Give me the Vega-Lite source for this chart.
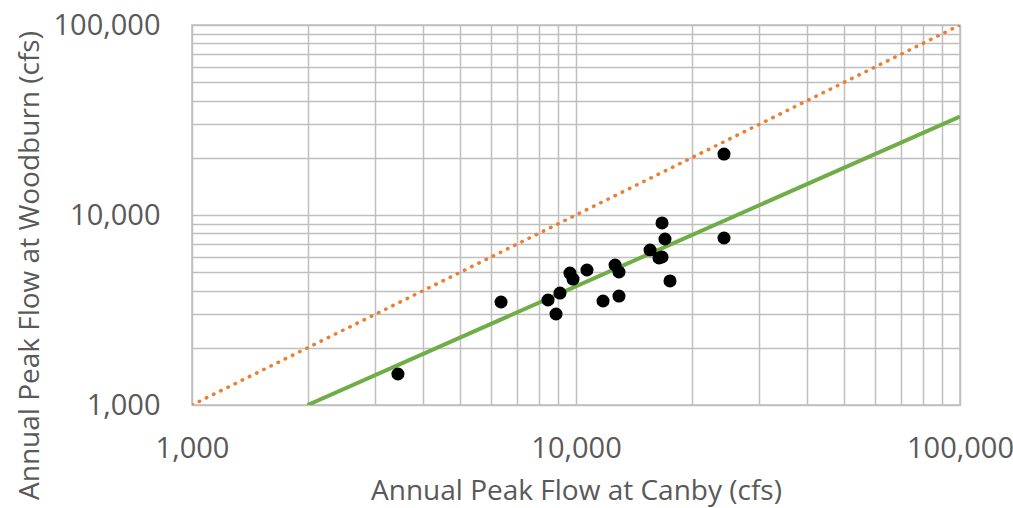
{
  "$schema": "https://vega.github.io/schema/vega-lite/v6.json",
  "autosize": "none",
  "width": 768,
  "height": 380,
  "padding": {"left": 192, "top": 25, "right": 53, "bottom": 103},
  "background": "white",
  "config": {
    "view": {"stroke": "#BFBFBF", "strokeWidth": 1.5},
    "font": "Open Sans"
  },
  "datasets": {
    "points": [
      {"canby": 3438, "woodburn": 1456},
      {"canby": 6380, "woodburn": 3484},
      {"canby": 8455, "woodburn": 3570},
      {"canby": 8872, "woodburn": 3013},
      {"canby": 9085, "woodburn": 3885},
      {"canby": 9644, "woodburn": 4950},
      {"canby": 9822, "woodburn": 4603},
      {"canby": 10680, "woodburn": 5135},
      {"canby": 11760, "woodburn": 3527},
      {"canby": 12640, "woodburn": 5455},
      {"canby": 12940, "woodburn": 5012},
      {"canby": 12940, "woodburn": 3746},
      {"canby": 15590, "woodburn": 6543},
      {"canby": 16450, "woodburn": 5938},
      {"canby": 16750, "woodburn": 6010},
      {"canby": 16750, "woodburn": 9080},
      {"canby": 17050, "woodburn": 7477},
      {"canby": 17570, "woodburn": 4496},
      {"canby": 24290, "woodburn": 20940},
      {"canby": 24290, "woodburn": 7568}
    ],
    "oneToOne": [
      {"canby": 1000, "woodburn": 1000},
      {"canby": 100000, "woodburn": 100000}
    ],
    "fit": [
      {"canby": 2000, "woodburn": 1000},
      {"canby": 100000, "woodburn": 33000}
    ]
  },
  "encoding": {
    "x": {
      "field": "canby",
      "type": "quantitative",
      "scale": {"type": "log", "domain": [1000, 100000], "nice": false},
      "axis": {
        "title": "Annual Peak Flow at Canby (cfs)",
        "values": [1000, 2000, 3000, 4000, 5000, 6000, 7000, 8000, 9000, 10000, 20000, 30000, 40000, 50000, 60000, 70000, 80000, 90000, 100000],
        "format": ",",
        "labelExpr": "indexof([1000,10000,100000], datum.value) >= 0 ? datum.label : ''",
        "labelFontSize": 29,
        "labelColor": "#595959",
        "labelBaseline": "alphabetic",
        "labelPadding": 52,
        "labelFlush": false,
        "labelOverlap": false,
        "titleFontSize": 28,
        "titleFontWeight": "normal",
        "titleColor": "#595959",
        "titleBaseline": "alphabetic",
        "titleY": 94,
        "ticks": false,
        "domain": false,
        "gridColor": "#BFBFBF",
        "gridWidth": 1.5
      }
    },
    "y": {
      "field": "woodburn",
      "type": "quantitative",
      "scale": {"type": "log", "domain": [1000, 100000], "nice": false},
      "axis": {
        "title": "Annual Peak Flow at Woodburn (cfs)",
        "values": [1000, 2000, 3000, 4000, 5000, 6000, 7000, 8000, 9000, 10000, 20000, 30000, 40000, 50000, 60000, 70000, 80000, 90000, 100000],
        "format": ",",
        "labelExpr": "indexof([1000,10000,100000], datum.value) >= 0 ? datum.label : ''",
        "labelFontSize": 29,
        "labelColor": "#595959",
        "labelPadding": 32,
        "labelFlush": false,
        "labelOverlap": false,
        "titleFontSize": 28,
        "titleFontWeight": "normal",
        "titleColor": "#595959",
        "titleBaseline": "alphabetic",
        "titleX": -154,
        "titleY": 240,
        "ticks": false,
        "domain": false,
        "gridColor": "#BFBFBF",
        "gridWidth": 1.5
      }
    }
  },
  "layer": [
    {
      "data": {"name": "oneToOne"},
      "mark": {"type": "line", "color": "#ED7D31", "strokeWidth": 3.5, "strokeDash": [0.5, 7.5], "strokeCap": "round", "clip": true}
    },
    {
      "data": {"name": "fit"},
      "mark": {"type": "line", "color": "#70AD47", "strokeWidth": 4, "clip": true}
    },
    {
      "data": {"name": "points"},
      "mark": {"type": "circle", "color": "black", "opacity": 1, "size": 170}
    }
  ]
}
